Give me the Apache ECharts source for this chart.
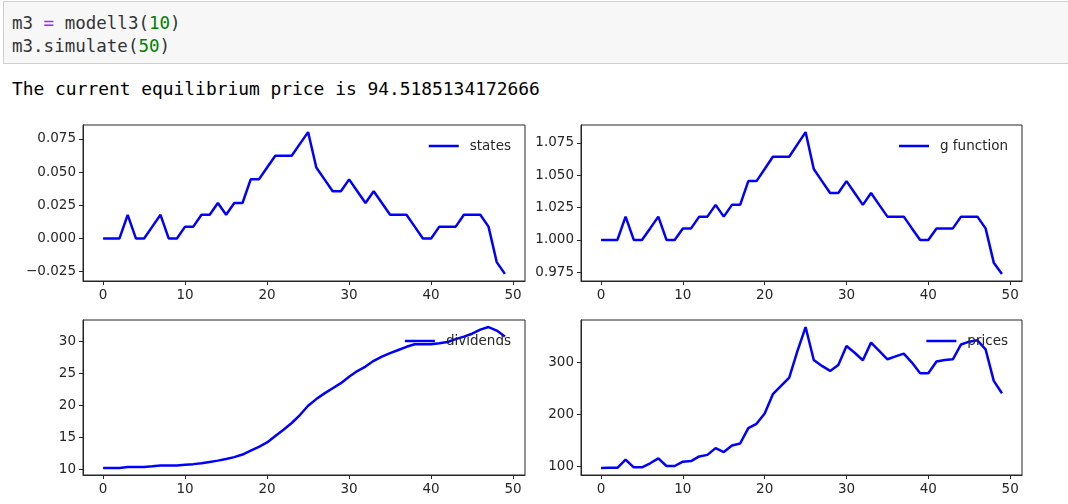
<!DOCTYPE html>
<html>
<head>
<meta charset="utf-8">
<script src="https://cdn.jsdelivr.net/npm/echarts@6/dist/echarts.min.js"></script>
<style>
  html, body { margin: 0; padding: 0; background: #fff; }
  body { width: 1068px; height: 504px; position: relative; overflow: hidden; }
  .code {
    position: absolute; left: 3px; top: 1px; width: 1080px; height: 63px;
    background: #f7f7f7; border: 1px solid #cfcfcf; box-sizing: border-box;
  }
  pre {
    margin: 0; font-family: "DejaVu Sans Mono", monospace; font-size: 17.5px;
    line-height: 23px; color: #333;
  }
  .code pre { position: absolute; left: 8px; top: 10px; }
  .out { position: absolute; left: 12px; top: 77px; color: #000; font-size: 17.9px; }
  .op { color: #aa22ff; }
  .num { color: #008000; }
  #chart { position: absolute; left: 0; top: 100px; width: 1068px; height: 404px; }
</style>
</head>
<body>
<div class="code"><pre>m3 <span class="op">=</span> modell3(<span class="num">10</span>)
m3.simulate(<span class="num">50</span>)</pre></div>
<pre class="out">The current equilibrium price is 94.5185134172666</pre>
<div id="chart"></div>
<script>
// period index
const steps = [0, 1, 2, 3, 4, 5, 6, 7, 8, 9, 10, 11, 12, 13, 14, 15, 16, 17, 18, 19,
  20, 21, 22, 23, 24, 25, 26, 27, 28, 29, 30, 31, 32, 33, 34, 35, 36, 37, 38, 39,
  40, 41, 42, 43, 44, 45, 46, 47, 48, 49];

const states = [0, 0, 0, 0.0178, 0, 0, 0.0089, 0.0178, 0, 0,
  0.0089, 0.0089, 0.0178, 0.0178, 0.0267, 0.0178, 0.0267, 0.0267, 0.0445, 0.0445,
  0.0534, 0.0623, 0.0623, 0.0623, 0.0712, 0.0801, 0.0534, 0.0445, 0.0356, 0.0356,
  0.0445, 0.0356, 0.0267, 0.0356, 0.0267, 0.0178, 0.0178, 0.0178, 0.0089, 0,
  0, 0.0089, 0.0089, 0.0089, 0.0178, 0.0178, 0.0178, 0.0089, -0.0178, -0.0267];

const gFunction = [1, 1, 1, 1.018, 1, 1, 1.0089, 1.018, 1, 1,
  1.0089, 1.0089, 1.018, 1.018, 1.0271, 1.018, 1.0271, 1.0271, 1.0455, 1.0455,
  1.0548, 1.0643, 1.0643, 1.0643, 1.0739, 1.0834, 1.0548, 1.0455, 1.0363, 1.0363,
  1.0455, 1.0363, 1.0271, 1.0363, 1.0271, 1.018, 1.018, 1.018, 1.0089, 1,
  1, 1.0089, 1.0089, 1.0089, 1.018, 1.018, 1.018, 1.0089, 0.9824, 0.9737];

const dividends = [10.2, 10.2, 10.2, 10.35, 10.35, 10.35, 10.45, 10.6, 10.6, 10.6,
  10.7, 10.8, 10.95, 11.15, 11.35, 11.6, 11.9, 12.3, 12.9, 13.5,
  14.2, 15.2, 16.2, 17.25, 18.5, 19.95, 21.0, 21.9, 22.7, 23.5,
  24.5, 25.4, 26.1, 27.0, 27.65, 28.2, 28.7, 29.2, 29.6, 29.6,
  29.6, 29.75, 29.95, 30.4, 30.8, 31.25, 31.9, 32.3, 31.75, 30.8];

const prices = [96.8, 97, 97, 112.8, 98, 98, 105.8, 115.4, 100.6, 100.6,
  109, 110, 119, 122, 135, 127.5, 140, 144, 173.7, 182,
  202, 239, 255, 271, 322, 368.6, 305, 293.6, 284, 295.5,
  332, 319, 304.5, 338.5, 322.4, 306.4, 312, 317.3, 300, 279.5,
  279.5, 302, 305, 306.4, 335, 340.4, 343, 325.6, 264.7, 241];

const xTicks = [0, 10, 20, 30, 40, 50];
const statesTicks = [-0.025, 0, 0.025, 0.05, 0.075];
const gTicks = [0.975, 1, 1.025, 1.05, 1.075];
const dividendTicks = [10, 15, 20, 25, 30];
const priceTicks = [100, 200, 300];

const panels = [
  { name: "states", values: states, ticks: statesTicks, digits: 3 },
  { name: "g function", values: gFunction, ticks: gTicks, digits: 3 },
  { name: "dividends", values: dividends, ticks: dividendTicks, digits: 0 },
  { name: "prices", values: prices, ticks: priceTicks, digits: 0 },
];

const textColor = "#262626";
const spineColor = "#262626";
const lineBlue = "#0000ff";

// panel boxes in px (left, top, width, height), legend right edge
const boxes = [
  [83, 25, 442, 156, 557],
  [581, 25, 441, 156, 60],
  [83, 220, 442, 155, 557],
  [581, 220, 441, 155, 60],
];

function pad(arr) {
  const lo = Math.min(...arr), hi = Math.max(...arr);
  const m = (hi - lo) * 0.05;
  return [lo - m, hi + m];
}

const grid = [], xAxis = [], yAxis = [], series = [], legend = [];
panels.forEach((p, i) => {
  const b = boxes[i];
  const lim = pad(p.values);
  grid.push({
    left: b[0], top: b[1], width: b[2], height: b[3],
    show: true, borderColor: spineColor, borderWidth: 1,
  });
  xAxis.push({
    type: "value", gridIndex: i, min: -2.45, max: 51.45,
    axisLine: { show: true, onZero: false, lineStyle: { color: spineColor } },
    axisTick: { show: true, customValues: xTicks, length: 4, lineStyle: { color: spineColor } },
    axisLabel: {
      customValues: xTicks, color: textColor, fontSize: 13.5, margin: 7,
      fontFamily: "DejaVu Sans",
    },
    splitLine: { show: false },
  });
  yAxis.push({
    type: "value", gridIndex: i, min: lim[0], max: lim[1],
    axisLine: { show: true, onZero: false, lineStyle: { color: spineColor } },
    axisTick: { show: true, customValues: p.ticks, length: 4, lineStyle: { color: spineColor } },
    axisLabel: {
      customValues: p.ticks, color: textColor, fontSize: 13.5, margin: 7,
      fontFamily: "DejaVu Sans",
      formatter: (v) => {
        const s = v.toFixed(p.digits);
        return s.charAt(0) === "-" ? "\u2212" + s.slice(1) : s;
      },
    },
    splitLine: { show: false },
  });
  series.push({
    name: p.name, type: "line", xAxisIndex: i, yAxisIndex: i,
    data: steps.map((x, k) => [x, p.values[k]]),
    showSymbol: false, symbol: "none",
    lineStyle: { color: lineBlue, width: 2.5 },
    itemStyle: { color: lineBlue },
    z: 2,
  });
  legend.push({
    data: [p.name], right: b[4], top: b[1] + 14, padding: 0,
    icon: "rect", itemWidth: 30, itemHeight: 2.5,
    selectedMode: false,
    textStyle: { color: textColor, fontSize: 13.5, fontFamily: "DejaVu Sans", padding: [0, 0, 0, 6] },
  });
});

const myChart = echarts.init(document.getElementById("chart"));
myChart.setOption({
  animation: false,
  backgroundColor: "transparent",
  grid, xAxis, yAxis, series, legend,
});
</script>
</body>
</html>
